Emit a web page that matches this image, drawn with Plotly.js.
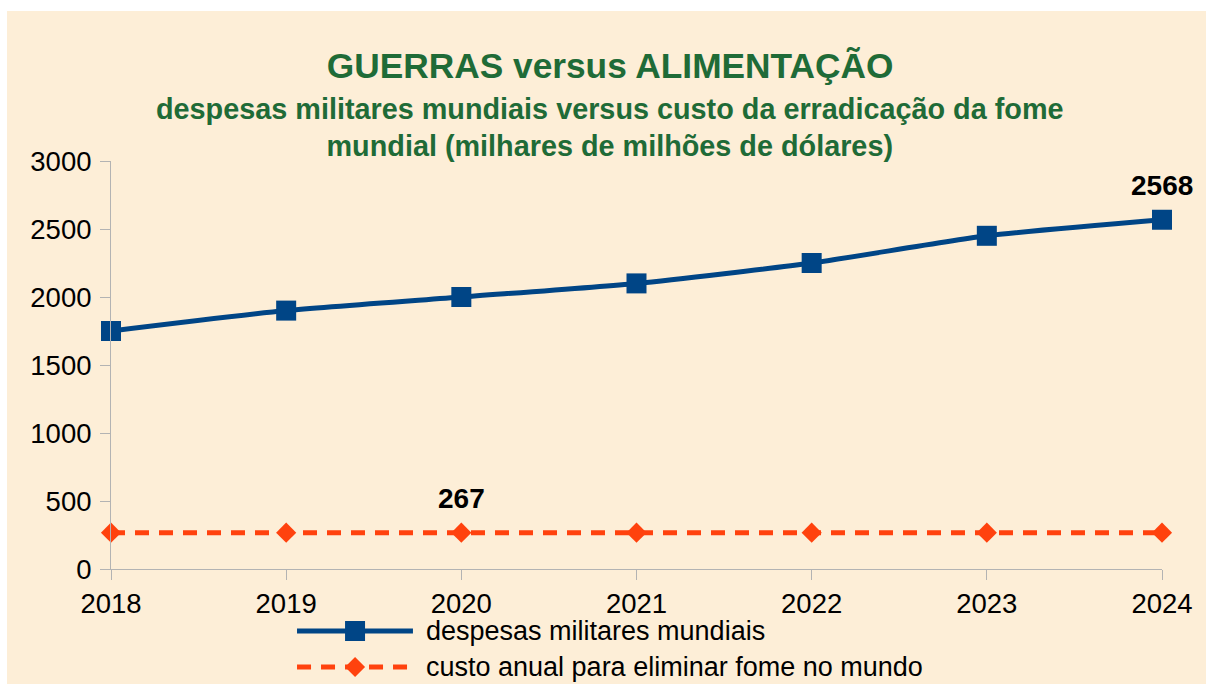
<!DOCTYPE html>
<html>
<head>
<meta charset="utf-8">
<script src="https://cdn.plot.ly/plotly-3.0.1.min.js"></script>
<style>
  html, body { margin: 0; padding: 0; background: #ffffff; width: 1206px; height: 684px; overflow: hidden; }
  #chart { position: absolute; left: 7px; top: 11px; width: 1199px; height: 673px; }
</style>
</head>
<body>
<div id="chart"></div>
<script>
// Data
const years = [2018, 2019, 2020, 2021, 2022, 2023, 2024];
const militarySpending = [1750, 1900, 2000, 2100, 2250, 2450, 2568];
const hungerCost = [267, 267, 267, 267, 267, 267, 267];
const seriesNames = ["despesas militares mundiais", "custo anual para eliminar fome no mundo"];
const yTicks = [0, 500, 1000, 1500, 2000, 2500, 3000];
const titleText = "GUERRAS versus ALIMENTAÇÃO";
const subtitleText = "despesas militares mundiais versus custo da erradicação da fome<br>mundial (milhares de milhões de dólares)";
const labelMilitary = { year: 2024, value: 2568 };
const labelHunger = { year: 2020, value: 267 };

const BLUE = "#004586";
const ORANGE = "#ff420e";
const GREEN = "#1f6b37";
const BG = "#fdeed7";
const AXIS = "#b3b3b3";
const FONT = "Liberation Sans, Arial, sans-serif";

const traces = [
  {
    x: years, y: militarySpending, name: seriesNames[0], type: "scatter", mode: "lines+markers",
    line: { color: BLUE, width: 5, shape: "spline", smoothing: 0.6 },
    marker: { symbol: "square", size: 20, color: BLUE },
    cliponaxis: false, showlegend: false
  },
  {
    x: years, y: hungerCost, name: seriesNames[1], type: "scatter", mode: "lines+markers",
    line: { color: ORANGE, width: 5, dash: "14px,10px" },
    marker: { symbol: "diamond", size: 15.5, color: ORANGE },
    cliponaxis: false, showlegend: false
  }
];

// custom legend geometry (paper coordinates)
const lx0 = 0.177, lx1 = 0.2873, lxm = 0.2322, ltx = 0.2978;
const ly1 = -0.152, ly2 = -0.240;

const layout = {
  width: 1199, height: 673,
  paper_bgcolor: BG, plot_bgcolor: BG,
  margin: { l: 104, r: 44, t: 150, b: 115 },
  font: { family: FONT, color: "#000000", size: 27 },
  title: {
    text: titleText,
    font: { family: FONT, size: 35.3, color: GREEN, weight: "bold" },
    x: 0.503, xref: "container", xanchor: "center",
    y: 1 - 55 / 673, yref: "container", yanchor: "middle"
  },
  xaxis: {
    range: [2018, 2024], tickvals: years, ticktext: years.map(String),
    showgrid: false, zeroline: false, showline: true, linecolor: AXIS, linewidth: 1,
    ticks: "outside", ticklen: 10, tickcolor: AXIS, tickwidth: 1,
    tickfont: { family: FONT, size: 27.5, color: "#000000" }
  },
  yaxis: {
    range: [0, 3000], tickvals: yTicks,
    showgrid: false, zeroline: false, showline: true, linecolor: AXIS, linewidth: 1,
    ticks: "outside", ticklen: 10, tickcolor: AXIS, tickwidth: 1, ticklabelstandoff: 3,
    tickfont: { family: FONT, size: 27.5, color: "#000000" }
  },
  showlegend: false,
  annotations: [
    {
      text: subtitleText, xref: "paper", yref: "paper", x: 0.4748, y: 1.0833,
      xanchor: "center", yanchor: "middle", showarrow: false,
      font: { family: FONT, size: 28.8, color: GREEN, weight: "bold" }
    },
    {
      text: String(labelMilitary.value), x: labelMilitary.year, y: labelMilitary.value,
      xref: "x", yref: "y", showarrow: false, yshift: 34, xanchor: "center", yanchor: "middle",
      font: { family: FONT, size: 28, color: "#000000", weight: "bold" }
    },
    {
      text: String(labelHunger.value), x: labelHunger.year, y: labelHunger.value,
      xref: "x", yref: "y", showarrow: false, yshift: 34, xanchor: "center", yanchor: "middle",
      font: { family: FONT, size: 28, color: "#000000", weight: "bold" }
    },
    {
      text: seriesNames[0], xref: "paper", yref: "paper", x: ltx, y: ly1,
      xanchor: "left", yanchor: "middle", showarrow: false,
      font: { family: FONT, size: 27, color: "#000000" }
    },
    {
      text: seriesNames[1], xref: "paper", yref: "paper", x: ltx, y: ly2,
      xanchor: "left", yanchor: "middle", showarrow: false,
      font: { family: FONT, size: 27, color: "#000000" }
    }
  ],
  shapes: [
    { type: "line", xref: "paper", yref: "paper", x0: lx0, x1: lx1, y0: ly1, y1: ly1,
      line: { color: BLUE, width: 5 } },
    { type: "rect", xref: "paper", yref: "paper", xsizemode: "pixel", ysizemode: "pixel",
      xanchor: lxm, yanchor: ly1, x0: -10, x1: 10, y0: -10, y1: 10,
      fillcolor: BLUE, line: { width: 0 } },
    { type: "line", xref: "paper", yref: "paper", x0: lx0, x1: lx1, y0: ly2, y1: ly2,
      line: { color: ORANGE, width: 5, dash: "14px,10px" } },
    { type: "path", xref: "paper", yref: "paper", xsizemode: "pixel", ysizemode: "pixel",
      xanchor: lxm, yanchor: ly2, path: "M -10 0 L 0 10 L 10 0 L 0 -10 Z",
      fillcolor: ORANGE, line: { width: 0 } }
  ]
};

Plotly.newPlot("chart", traces, layout, { displayModeBar: false, staticPlot: true });
</script>
</body>
</html>
